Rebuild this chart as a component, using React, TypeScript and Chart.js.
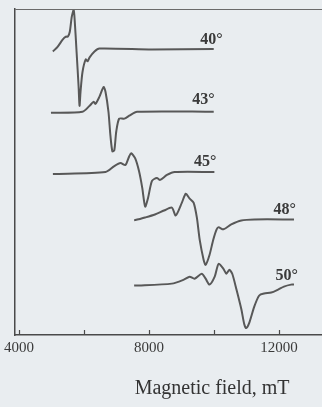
import { useEffect, useRef } from 'react';
import { Chart, registerables } from 'chart.js';

Chart.register(...registerables);

// ---- data (field in mT, signal in arbitrary offset units) ----
const curveLabels = ['40°', '43°', '45°', '48°', '50°'];

const field40 = [5040, 5190, 5340, 5440, 5500, 5560, 5620, 5680, 5710, 5770, 5830, 5860, 5890, 5950, 6050, 6110, 6170, 6320, 6470, 8090, 9990];
const signal40 = [28.7, 29.2, 29.9, 30.2, 30.2, 30.7, 32.2, 32.9, 31.9, 28.6, 25.2, 23.2, 24.6, 26.6, 27.9, 27.7, 28.1, 28.7, 29.0, 28.9, 28.95];

const field43 = [4980, 5950, 6170, 6290, 6350, 6470, 6600, 6660, 6750, 6810, 6870, 6930, 6990, 7080, 7240, 7390, 7630, 9990];
const signal43 = [22.5, 22.6, 23.2, 23.6, 23.4, 24.1, 25.1, 24.6, 22.6, 20.2, 18.6, 18.7, 20.6, 21.9, 21.9, 22.2, 22.6, 22.6];

const field45 = [5040, 6660, 6930, 7120, 7270, 7390, 7450, 7570, 7690, 7790, 7880, 7970, 8090, 8240, 8340, 8550, 8790, 10010];
const signal45 = [16.3, 16.5, 17.1, 17.4, 17.2, 18.1, 18.4, 17.9, 16.6, 14.9, 13.0, 13.9, 15.6, 15.9, 15.7, 16.2, 16.5, 16.5];

const field48 = [7540, 7880, 8180, 8460, 8700, 8820, 9010, 9130, 9250, 9370, 9470, 9560, 9680, 9740, 9860, 9980, 10080, 10140, 10290, 10530, 10840, 11240, 12460];
const signal48 = [11.6, 11.9, 12.2, 12.6, 12.9, 12.1, 13.4, 14.3, 13.8, 13.4, 11.9, 9.6, 7.6, 7.1, 8.1, 9.7, 10.7, 10.9, 10.7, 11.2, 11.6, 11.7, 11.7];

const field50 = [7540, 8700, 9070, 9250, 9400, 9620, 9740, 9860, 10020, 10140, 10290, 10380, 10470, 10560, 10690, 10840, 10930, 10990, 11080, 11240, 11390, 11540, 11760, 11970, 12150, 12370, 12460];
const signal50 = [5.0, 5.2, 5.6, 5.9, 5.7, 6.2, 5.7, 5.1, 5.9, 7.2, 6.7, 6.2, 6.6, 6.2, 4.6, 2.6, 1.1, 0.7, 1.2, 2.9, 4.0, 4.2, 4.3, 4.6, 4.9, 5.1, 5.1];

const tickValues = [4000, 6000, 8000, 10000, 12000, 14000];
const labeledTicks = [4000, 8000, 12000];
const axisTitle = 'Magnetic field, mT';

const fields = [field40, field43, field45, field48, field50];
const signals = [signal40, signal43, signal45, signal48, signal50];

// label offsets (px) relative to the end of each trace
const labelDx = [9, 1, 2, 2, 4];
const labelDy = [-5, -8, -6, -5, -5];

const BG = '#e9edf0';
const INK = '#4a4a4a';

export default function App() {
  const ref = useRef<HTMLCanvasElement | null>(null);

  useEffect(() => {
    const canvas = ref.current;
    if (!canvas) return;

    const bgPlugin = {
      id: 'bg',
      beforeDraw(chart: any) {
        const { ctx, width, height } = chart;
        ctx.save();
        ctx.fillStyle = BG;
        ctx.fillRect(0, 0, width, height);
        ctx.restore();
      },
    };

    const framePlugin = {
      id: 'frame',
      afterDraw(chart: any) {
        const { ctx, chartArea } = chart;
        const xs = chart.scales.x;
        ctx.save();
        ctx.strokeStyle = '#6a6a6a';
        ctx.lineWidth = 1;
        ctx.beginPath();
        ctx.moveTo(chartArea.left, chartArea.top + 0.5);
        ctx.lineTo(chartArea.right, chartArea.top + 0.5);
        ctx.stroke();
        ctx.strokeStyle = INK;
        ctx.lineWidth = 1.2;
        tickValues.forEach((v) => {
          const x = Math.round(xs.getPixelForValue(v)) + 0.5;
          ctx.beginPath();
          ctx.moveTo(x, chartArea.bottom);
          ctx.lineTo(x, chartArea.bottom - 5);
          ctx.stroke();
        });
        // curve labels
        ctx.fillStyle = '#3a3a3a';
        ctx.font = 'bold 16px "Liberation Serif", serif';
        ctx.textAlign = 'right';
        ctx.textBaseline = 'alphabetic';
        chart.data.datasets.forEach((ds: any, i: number) => {
          const meta = chart.getDatasetMeta(i);
          const last = meta.data[meta.data.length - 1];
          ctx.fillText(curveLabels[i], last.x + labelDx[i], last.y + labelDy[i]);
        });
        ctx.restore();
      },
    };

    const chart = new Chart(canvas, {
      type: 'line',
      data: {
        datasets: fields.map((f, i) => ({
          label: curveLabels[i],
          data: f.map((x, j) => ({ x, y: signals[i][j] })),
          borderColor: '#585858',
          borderWidth: 2,
          pointRadius: 0,
          tension: 0.25,
          fill: false,
        })),
      },
      options: {
        animation: false,
        responsive: false,
        devicePixelRatio: 1,
        layout: { padding: { top: 9, left: 11, right: 1, bottom: 6 } },
        plugins: {
          legend: { display: false },
          tooltip: { enabled: false },
          title: { display: false },
        },
        scales: {
          x: {
            type: 'linear',
            min: 3880,
            max: 16000,
            afterBuildTicks(scale: any) {
              scale.ticks = tickValues.map((v) => ({ value: v }));
            },
            grid: { display: false, drawTicks: false },
            border: { display: true, color: INK, width: 1.5 },
            ticks: {
              padding: 4,
              color: '#3a3a3a',
              font: { family: '"Liberation Serif", serif', size: 15 },
              callback: (v: any) => (labeledTicks.includes(Number(v)) ? String(v) : ''),
              maxRotation: 0,
              autoSkip: false,
            },
            title: {
              display: true,
              text: axisTitle,
              color: '#333333',
              font: { family: '"Liberation Serif", serif', size: 20 },
              padding: { top: 16, bottom: 0 },
            },
          },
          y: {
            type: 'linear',
            min: 0,
            max: 33,
            grid: { display: false, drawTicks: false },
            border: { display: true, color: INK, width: 1.5 },
            ticks: { display: false },
          },
        },
      },
      plugins: [bgPlugin, framePlugin],
    });

    return () => chart.destroy();
  }, []);

  return (
    <div
      style={{
        position: 'fixed',
        left: 0,
        top: 0,
        width: 322,
        height: 407,
        overflow: 'hidden',
        background: BG,
      }}
    >
      <canvas ref={ref} width={410} height={407} style={{ display: 'block' }} />
    </div>
  );
}
